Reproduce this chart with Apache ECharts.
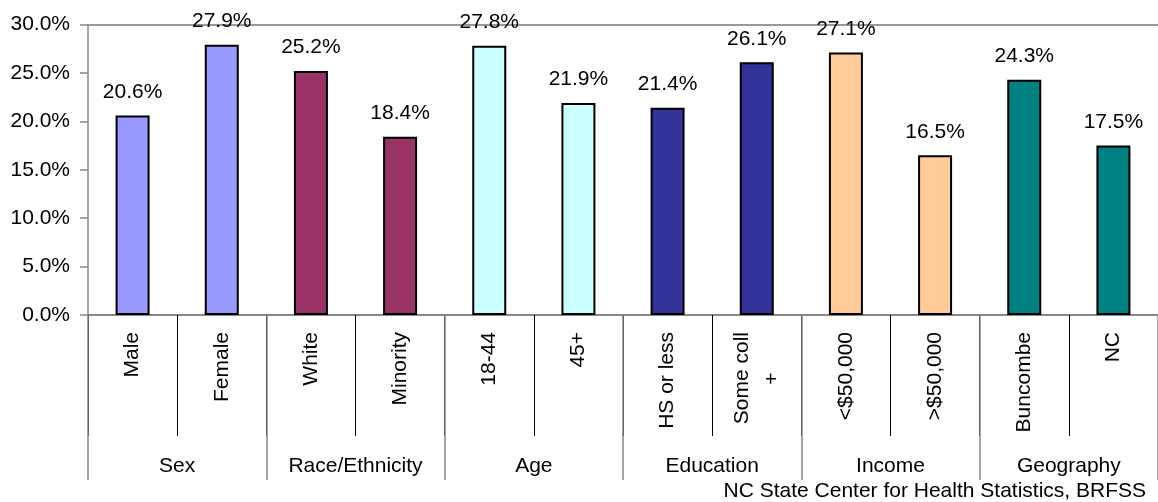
<!DOCTYPE html>
<html>
<head>
<meta charset="utf-8">
<script src="https://cdn.jsdelivr.net/npm/echarts@6/dist/echarts.min.js"></script>
<style>
html,body{margin:0;padding:0;background:#fff;}
#chart{width:1158px;height:502px;}
</style>
</head>
<body>
<div id="chart"></div>
<script>
const categories = ['Male','Female','White','Minority','18-44','45+','HS or less','Some coll\n+','<$50,000','>$50,000','Buncombe','NC'];
const values = [20.6, 27.9, 25.2, 18.4, 27.8, 21.9, 21.4, 26.1, 27.1, 16.5, 24.3, 17.5];
const groups = ['Sex','Race/Ethnicity','Age','Education','Income','Geography'];
const barColors = ['#9999FF','#9999FF','#993366','#993366','#CCFFFF','#CCFFFF','#333399','#333399','#FFCC99','#FFCC99','#008080','#008080'];
const yTicks = [0, 5, 10, 15, 20, 25, 30];
const sourceText = 'NC State Center for Health Statistics, BRFSS';

const FONT = '"Liberation Sans", Arial, sans-serif';
const FS = 21;

const cv = document.createElement('canvas').getContext('2d');
cv.font = FS + 'px "Liberation Sans"';
const someCollW = Math.ceil(cv.measureText('Some coll').width);

const chart = echarts.init(document.getElementById('chart'), null, {renderer: 'canvas'});
chart.setOption({
  animation: false,
  textStyle: {fontFamily: FONT},
  grid: {left: 88, top: 24.5, width: 1074, height: 290.5, containLabel: false},
  yAxis: {
    type: 'value', min: yTicks[0], max: yTicks[yTicks.length - 1], interval: 5,
    axisLine: {show: true, lineStyle: {color: '#888', width: 1.5}},
    axisTick: {show: true, length: 8, lineStyle: {color: '#888', width: 1.5}},
    splitLine: {show: false},
    axisLabel: {margin: 18, color: '#000', fontSize: FS, fontFamily: FONT,
      formatter: v => v.toFixed(1) + '%'}
  },
  xAxis: [
    {
      type: 'category', data: categories, position: 'bottom',
      axisLine: {show: true, lineStyle: {color: '#888', width: 2}},
      axisTick: {show: true, interval: 0, length: 121, lineStyle: {color: '#000', width: 1}},
      axisLabel: {
        interval: 0, rotate: 90, margin: 17, color: '#000', fontSize: FS, fontFamily: FONT,
        lineHeight: 30,
        formatter: v => v.indexOf('\n') >= 0 ? v.split('\n').map((s, i) => i === 0 ? '{a|' + s + '}' : '{b|' + s + '}').join('\n') : v,
        rich: {
          a: {fontSize: FS, fontFamily: FONT, color: '#000', lineHeight: 30},
          b: {fontSize: FS, fontFamily: FONT, color: '#000', lineHeight: 30, width: someCollW, align: 'center'}
        }
      }
    },
    {
      type: 'category', data: groups, position: 'bottom',
      axisLine: {show: false},
      axisTick: {show: true, interval: 0, length: 165, lineStyle: {color: '#888', width: 1.5}},
      axisLabel: {interval: 0, margin: 141, color: '#000', fontSize: FS, fontFamily: FONT}
    },
    {
      type: 'category', data: groups, position: 'top',
      axisLine: {show: true, lineStyle: {color: '#999', width: 2}},
      axisTick: {show: false}, axisLabel: {show: false}
    }
  ],
  series: [{
    type: 'bar', xAxisIndex: 0,
    barWidth: 34,
    data: values.map((v, i) => ({value: v, itemStyle: {color: barColors[i]}})),
    itemStyle: {borderColor: '#000', borderWidth: 2},
    label: {show: true, position: 'top', distance: 13, color: '#000', fontSize: FS, fontFamily: FONT,
      formatter: p => p.value.toFixed(1) + '%'}
  }],
  graphic: [{
    type: 'text', right: 12, top: 481,
    style: {text: sourceText, fill: '#000', font: FS + 'px ' + FONT}
  }]
});
</script>
</body>
</html>
